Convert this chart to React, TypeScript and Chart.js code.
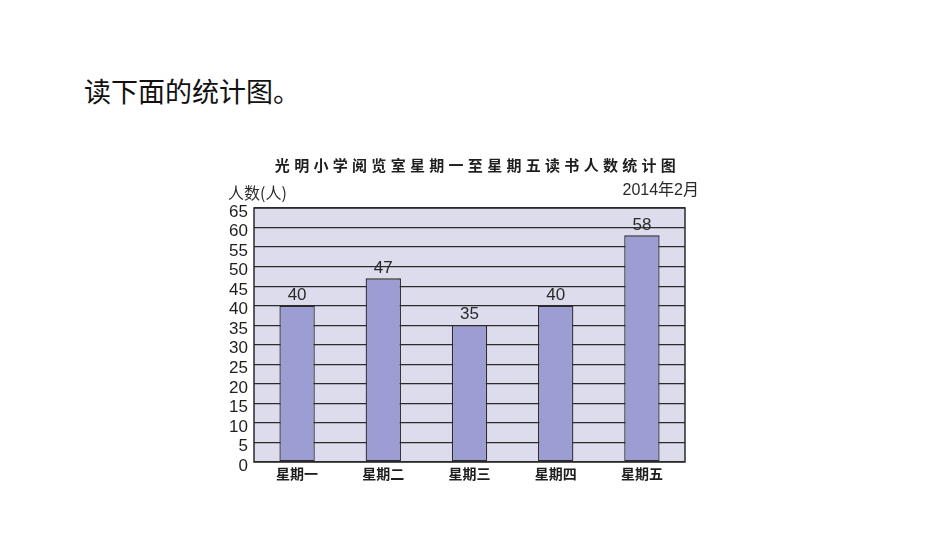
import { useEffect, useRef } from "react";
import { Chart, registerables } from "chart.js";

Chart.register(...registerables);

const days = ["星期一", "星期二", "星期三", "星期四", "星期五"];
const readers = [40, 47, 35, 40, 58];
const yMax = 65;
const yStep = 5;

const chartTitle = "光明小学阅览室星期一至星期五读书人数统计图";
const yAxisLabel = "人数(人)";
const dateLabel = "2014年2月";

// plot background behind the grid
const plotBgPlugin = {
  id: "plotBg",
  beforeDraw(chart: Chart) {
    const { ctx, chartArea: a } = chart;
    ctx.save();
    ctx.fillStyle = "#dcdcec";
    ctx.fillRect(a.left, a.top, a.right - a.left, a.bottom - a.top);
    ctx.restore();
  },
};

// border, value labels and the header texts
const overlayPlugin = {
  id: "overlay",
  afterDatasetsDraw(chart: Chart) {
    const { ctx, chartArea: a } = chart;
    ctx.save();
    ctx.strokeStyle = "#2b2b2b";
    ctx.lineWidth = 1.5;
    ctx.strokeRect(a.left, a.top, a.right - a.left, a.bottom - a.top);

    ctx.fillStyle = "#2a2a2a";
    ctx.font = "17px 'Liberation Sans', Arial, sans-serif";
    ctx.textAlign = "center";
    ctx.textBaseline = "bottom";
    chart.getDatasetMeta(0).data.forEach((bar: any, i: number) => {
      ctx.fillText(String(readers[i]), bar.x, bar.y - 2);
    });

    // title
    ctx.font = "bold 15px 'Noto Sans CJK SC', sans-serif";
    (ctx as any).letterSpacing = "4.3px";
    ctx.textBaseline = "middle";
    ctx.fillStyle = "#1e1e1e";
    ctx.fillText(chartTitle, (a.left + a.right) / 2 + 8, 165);
    (ctx as any).letterSpacing = "0px";

    ctx.font = "16px 'Noto Sans CJK SC', sans-serif";
    ctx.textAlign = "left";
    ctx.fillStyle = "#2a2a2a";
    ctx.fillText(yAxisLabel, 228, 193);

    ctx.font = "16px 'Liberation Sans', 'Noto Sans CJK SC', sans-serif";
    ctx.textAlign = "right";
    ctx.fillText(dateLabel, 699, 191);
    ctx.restore();
  },
};

function ReadingChart() {
  const canvasRef = useRef<HTMLCanvasElement>(null);

  useEffect(() => {
    if (!canvasRef.current) return;
    const chart = new Chart(canvasRef.current, {
      type: "bar",
      data: {
        labels: days,
        datasets: [
          {
            data: readers,
            backgroundColor: "#9c9ed3",
            borderColor: "#2b2b2b",
            borderWidth: 1.3,
            borderSkipped: false,
            barPercentage: 0.41,
            categoryPercentage: 1,
          },
        ],
      },
      options: {
        responsive: true,
        maintainAspectRatio: false,
        animation: false,
        layout: { padding: { left: 194, right: 265, top: 208, bottom: 43 } },
        plugins: {
          legend: { display: false },
          tooltip: { enabled: false },
          title: { display: false },
        },
        scales: {
          x: {
            grid: { display: false },
            border: { display: false },
            afterFit: (s: any) => {
              s.height = 30;
            },
            ticks: {
              padding: -5,
              color: "#1e1e1e",
              font: { family: "'Noto Sans CJK SC', sans-serif", size: 14, weight: "bold" },
            },
          },
          y: {
            min: 0,
            max: yMax,
            afterFit: (s: any) => {
              s.width = 60;
            },
            grid: {
              color: "#2b2b2b",
              lineWidth: 1.3,
              drawTicks: false,
            },
            border: { display: false },
            ticks: {
              stepSize: yStep,
              autoSkip: false,
              padding: 6,
              labelOffset: 4,
              color: "#1e1e1e",
              font: { family: "'Liberation Sans', Arial, sans-serif", size: 17 },
            },
          },
        },
      },
      plugins: [plotBgPlugin, overlayPlugin],
    });
    return () => chart.destroy();
  }, []);

  return (
    <div style={{ position: "absolute", left: 0, top: 0, width: 950, height: 535 }}>
      <canvas ref={canvasRef}></canvas>
    </div>
  );
}

export default function App() {
  return (
    <div style={{ position: "fixed", left: 0, top: 0, width: 950, height: 535, background: "#fff" }}>
      <div
        style={{
          position: "absolute",
          left: 84,
          top: 74,
          fontFamily: "'Noto Sans CJK SC', sans-serif",
          fontSize: 27,
          lineHeight: "34px",
          color: "#111",
        }}
      >
        读下面的统计图。
      </div>
      <ReadingChart />
    </div>
  );
}
